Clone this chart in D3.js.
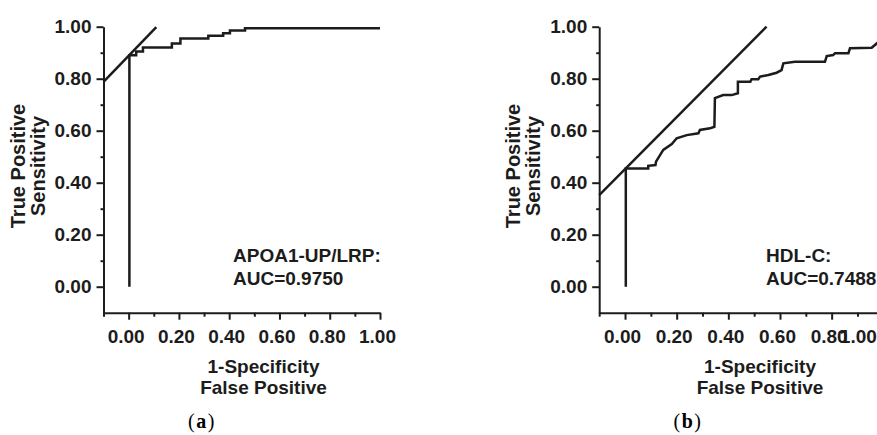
<!DOCTYPE html>
<html>
<head>
<meta charset="utf-8">
<script src="https://cdn.jsdelivr.net/npm/d3@7"></script>
<style>
    body { margin: 0; background: #fff; }
    svg { display: block; }
</style>
</head>
<body>
<svg id="chart"></svg>
<script>
/* ---------- Data ---------- */
const majorTicks = [0, 0.2, 0.4, 0.6, 0.8, 1.0];
const minorTicks = [-0.1, 0.1, 0.3, 0.5, 0.7, 0.9];

// panel a: APOA1-UP/LRP
const rocA_fpr = [0.003, 0.003, 0.03, 0.03, 0.057, 0.057, 0.172, 0.172, 0.206, 0.206, 0.317, 0.317, 0.376, 0.376, 0.403, 0.403, 0.463, 0.463, 1.0];
const rocA_tpr = [0, 0.89, 0.89, 0.905, 0.905, 0.92, 0.92, 0.935, 0.935, 0.955, 0.955, 0.965, 0.965, 0.975, 0.975, 0.985, 0.985, 0.994, 0.994];
const refA_fpr = [-0.1, 0.11];
const refA_tpr = [0.788, 0.998];

// panel b: HDL-C
const rocB_fpr = [0.003, 0.003, 0.09, 0.09, 0.118, 0.12, 0.148, 0.181, 0.2, 0.239, 0.284, 0.29, 0.329, 0.346, 0.348, 0.38, 0.413, 0.437, 0.437, 0.485, 0.49, 0.516, 0.523, 0.555, 0.587, 0.606, 0.613, 0.658, 0.774, 0.781, 0.806, 0.813, 0.865, 0.871, 0.955, 0.98, 1.0];
const rocB_tpr = [0, 0.455, 0.455, 0.465, 0.468, 0.481, 0.526, 0.549, 0.571, 0.583, 0.59, 0.603, 0.609, 0.615, 0.725, 0.737, 0.737, 0.744, 0.788, 0.788, 0.798, 0.798, 0.808, 0.814, 0.823, 0.833, 0.859, 0.865, 0.865, 0.887, 0.891, 0.898, 0.898, 0.917, 0.919, 0.94, 0.95];
const refB_fpr = [-0.1, 0.548];
const refB_tpr = [0.352, 1.0];

const panelNames = ["APOA1-UP/LRP:", "HDL-C:"];
const aucLabels = ["AUC=0.9750", "AUC=0.7488"];
const captions = ["a", "b"];
const yTitle = ["True Positive", "Sensitivity"];
const xTitle = ["1-Specificity", "False Positive"];

/* ---------- Layout ---------- */
const W = 877, H = 435;
const ink = "#1c1c1c";
const font = "'Liberation Sans', Arial, sans-serif";

const panels = [
    {left: 103.5, right: 380, roc: [rocA_fpr, rocA_tpr], ref: [refA_fpr, refA_tpr],
     noteX: 233, xTitleX: 263.5, capX: 202, yTitleX: 24.5},
    {left: 599.2, right: 883.3, roc: [rocB_fpr, rocB_tpr], ref: [refB_fpr, refB_tpr],
     noteX: 766, xTitleX: 760, capX: 688, yTitleX: 519.5}
];

const svg = d3.select("#chart").attr("width", W).attr("height", H);
svg.append("rect").attr("width", W).attr("height", H).attr("fill", "#fff");

const y = d3.scaleLinear().domain([-0.1, 1.0]).range([312.7, 26.7]);

panels.forEach((p, i) => {
    const x = d3.scaleLinear().domain([-0.1, 1.0]).range([p.left, p.right]);
    const g = svg.append("g");

    // axes: major + minor ticks
    const xAxis = g.append("g").attr("transform", `translate(0,${y(-0.1)})`)
        .call(d3.axisBottom(x).tickValues(majorTicks).tickFormat(d3.format(".2f"))
            .tickSize(7).tickSizeOuter(0).tickPadding(9.5));
    g.append("g").attr("transform", `translate(0,${y(-0.1)})`)
        .call(d3.axisBottom(x).tickValues(minorTicks).tickFormat("").tickSize(4).tickSizeOuter(0))
        .select(".domain").remove();

    const yAxis = g.append("g").attr("transform", `translate(${x(-0.1)},0)`)
        .call(d3.axisLeft(y).tickValues(majorTicks).tickFormat(d3.format(".2f"))
            .tickSize(7).tickSizeOuter(0).tickPadding(5));
    g.append("g").attr("transform", `translate(${x(-0.1)},0)`)
        .call(d3.axisLeft(y).tickValues(minorTicks.slice(1)).tickFormat("").tickSize(3).tickSizeOuter(0))
        .select(".domain").remove();

    g.selectAll(".domain, .tick line").attr("stroke", ink).attr("stroke-width", 2);
    g.selectAll(".tick text").attr("fill", ink)
        .attr("font-family", font).attr("font-size", 19).attr("font-weight", "bold");
    xAxis.selectAll(".tick text").attr("dx", -3);
    // last x label in panel b is pushed left against the picture edge
    if (i === 1) xAxis.selectAll(".tick text").filter(d => d === 1).attr("dx", -25.5);

    // reference (tangent) line
    const line = d3.line().x(d => x(d[0])).y(d => y(d[1]));
    g.append("path")
        .datum(d3.zip(p.ref[0], p.ref[1]))
        .attr("d", line).attr("fill", "none")
        .attr("stroke", ink).attr("stroke-width", 2.5);

    // ROC curve
    g.append("path")
        .datum(d3.zip(p.roc[0], p.roc[1]))
        .attr("d", line).attr("fill", "none")
        .attr("stroke", ink).attr("stroke-width", 2.5)
        .attr("stroke-linejoin", "miter");

    // annotation
    const note = g.append("text").attr("x", p.noteX).attr("y", 261.7)
        .attr("font-family", font).attr("font-size", 19).attr("font-weight", "bold").attr("fill", ink);
    note.append("tspan").attr("x", p.noteX).text(panelNames[i]);
    note.append("tspan").attr("x", p.noteX).attr("dy", 23.3).text(aucLabels[i]);

    // y title
    const yt = g.append("text")
        .attr("transform", `translate(${p.yTitleX},166) rotate(-90)`)
        .attr("text-anchor", "middle")
        .attr("font-family", font).attr("font-size", 20).attr("font-weight", "bold").attr("fill", ink);
    yt.append("tspan").attr("x", 0).attr("y", 0).text(yTitle[0]);
    yt.append("tspan").attr("x", 0).attr("y", 20.5).text(yTitle[1]);

    // x title
    const xt = g.append("text").attr("text-anchor", "middle")
        .attr("font-family", font).attr("font-size", 19).attr("font-weight", "bold").attr("fill", ink);
    xt.append("tspan").attr("x", p.xTitleX).attr("y", 372.7).text(xTitle[0]);
    xt.append("tspan").attr("x", p.xTitleX).attr("y", 394.3).text(xTitle[1]);

    // caption
    const cap = g.append("text").attr("x", p.capX).attr("y", 428).attr("text-anchor", "middle")
        .attr("font-family", "'Liberation Serif', 'Times New Roman', serif").attr("font-size", 20)
        .attr("letter-spacing", 1.5).attr("fill", "#000");
    cap.append("tspan").text("(");
    cap.append("tspan").attr("font-weight", "bold").text(captions[i]);
    cap.append("tspan").text(")");
});
</script>
</body>
</html>
